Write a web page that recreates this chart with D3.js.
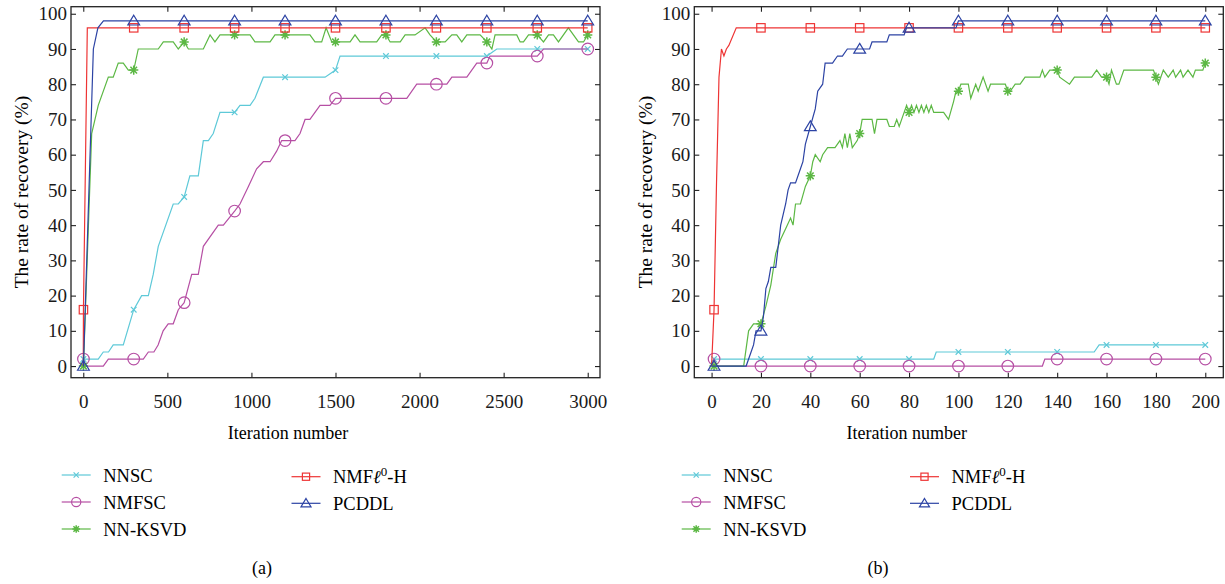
<!DOCTYPE html>
<html>
<head>
<meta charset="utf-8">
<script src="https://cdnjs.cloudflare.com/ajax/libs/d3/7.8.5/d3.min.js"></script>
<style>
body { margin: 0; background: #fff; }
.axis path { display: none; }
.axis line { stroke: #222; stroke-width: 1.1; }
</style>
</head>
<body>
<svg id="fig" width="1225" height="584"></svg>
<script>
// legend names, colours and marker kinds, same order as drawn
var methods = ['NNSC', 'NMFSC', 'NN-KSVD', 'NMFl0-H', 'PCDDL'];
var colors = ['#5ec9d8', '#b64fa4', '#5cb844', '#ee3434', '#2c43a4'];
var markers = ['x', 'o', '*', 's', '^'];

// (a) iterations 0..3000
var xTicksA = [0, 500, 1000, 1500, 2000, 2500, 3000];
var markItsA = [1, 300, 600, 900, 1200, 1500, 1800, 2100, 2400, 2700, 3000];
var nnscA = [[0,0],[1,2],[89,2],[119,4],[150,4],[178,6],[238,6],[300,16],[347,20],[387,20],[416,26],[446,34],[535,46],[565,46],[600,48],[634,54],[684,54],[714,64],[744,64],[773,66],[813,72],[900,72],[932,74],[992,74],[1021,76],[1071,82],[1200,82],[1438,82],[1500,84],[1527,88],[1800,88],[2100,88],[2400,88],[2459,90],[2700,90],[3000,90]];
var nmfscA = [[0,0],[1,2],[10,0],[119,0],[149,2],[300,2],[357,2],[387,4],[420,4],[445,6],[475,10],[505,12],[535,12],[565,16],[600,18],[645,26],[684,26],[714,34],[803,40],[833,40],[900,44],[932,46],[982,51],[1031,56],[1071,58],[1111,58],[1150,61],[1180,64],[1200,64],[1259,64],[1289,66],[1319,70],[1348,70],[1408,74],[1467,74],[1500,76],[1800,76],[1924,76],[1983,80],[2100,80],[2162,80],[2192,82],[2281,82],[2340,86],[2400,86],[2419,88],[2700,88],[2737,90],[3000,90]];
var nnksvdA = [[0,0],[1,0],[50,66],[89,74],[149,82],[178,82],[208,86],[238,86],[268,84],[300,84],[327,90],[446,90],[476,92],[535,92],[565,90],[600,92],[625,90],[714,90],[754,94],[783,92],[813,94],[900,94],[992,94],[1021,92],[1111,92],[1140,94],[1200,94],[1348,94],[1378,92],[1418,92],[1444,96],[1478,92],[1500,92],[1587,92],[1616,94],[1646,92],[1745,92],[1775,94],[1800,94],[1825,92],[1885,92],[1914,94],[1973,94],[2033,96],[2062,94],[2100,92],[2152,92],[2192,94],[2221,94],[2251,92],[2281,94],[2360,94],[2400,92],[2430,90],[2449,94],[2578,94],[2598,92],[2618,92],[2648,94],[2700,94],[2737,92],[2767,94],[2796,94],[2826,92],[2885,96],[2945,92],[2975,92],[3000,94]];
var nmfl0A = [[0,0],[1,16],[24,96],[300,96],[600,96],[900,96],[1200,96],[1500,96],[1800,96],[2100,96],[2400,96],[2700,96],[3000,96]];
var pcddlA = [[0,0],[1,0],[60,90],[87,96],[120,98],[300,98],[600,98],[900,98],[1200,98],[1500,98],[1800,98],[2100,98],[2400,98],[2700,98],[3000,98]];

// (b) iterations 0..200
var xTicksB = [0, 20, 40, 60, 80, 100, 120, 140, 160, 180, 200];
var markItsB = [1, 20, 40, 60, 80, 100, 120, 140, 160, 180, 200];
var nnscB = [[0,0],[1,2],[20,2],[40,2],[60,2],[80,2],[90,2],[91,4],[100,4],[120,4],[140,4],[155,4],[157,6],[160,6],[180,6],[200,6]];
var nmfscB = [[0,0],[1,2],[2,0],[20,0],[40,0],[60,0],[80,0],[100,0],[120,0],[134,0],[135,2],[140,2],[160,2],[180,2],[200,2]];
var nnksvdB = [[0,0],[1,0],[13,0],[15,10],[17,12],[19,12],[20,12],[22,17],[24,23],[26,32],[28,36],[30,39],[32,42],[33,40],[34,46],[36,46],[38,51],[40,54],[41,58],[42,60],[44,58],[45,60],[47,62],[50,62],[52,64],[53,62],[54,66],[55,62],[56,66],[57,62],[59,64],[60,66],[61,70],[65,70],[66,66],[67,70],[71,70],[72,68],[74,68],[75,70],[76,68],[78,72],[79,74],[80,72],[81,74],[82,72],[83,74],[84,72],[85,74],[86,72],[87,74],[88,72],[89,74],[90,72],[94,72],[96,70],[98,75],[99,78],[100,78],[101,80],[104,80],[105,76],[107,80],[108,78],[110,82],[112,78],[113,80],[119,80],[120,78],[121,78],[123,80],[125,80],[127,82],[133,82],[134,84],[135,82],[137,84],[140,84],[141,82],[145,80],[147,82],[154,82],[156,84],[158,82],[160,82],[161,80],[162,84],[164,80],[165,80],[167,84],[179,84],[180,82],[181,80],[183,84],[185,82],[187,84],[188,82],[190,84],[191,82],[193,84],[195,82],[196,84],[199,84],[200,86]];
var nmfl0B = [[0,0],[1,16],[2,52],[3,82],[4,90],[5,88],[6,90],[7,91],[10,96],[20,96],[40,96],[60,96],[80,96],[100,96],[120,96],[140,96],[160,96],[180,96],[200,96]];
var pcddlB = [[0,0],[1,0],[14,0],[16,4],[17,6],[18,10],[20,10],[21,14],[22,22],[23,24],[24,28],[26,28],[28,40],[30,46],[31,50],[32,52],[34,52],[36,56],[37,58],[38,63],[40,68],[42,73],[43,78],[45,80],[46,86],[49,86],[51,88],[53,88],[55,90],[60,90],[64,90],[65,92],[71,92],[72,94],[78,94],[79,96],[80,96],[99,96],[100,98],[120,98],[140,98],[160,98],[180,98],[200,98]];

var yTicks = [0, 10, 20, 30, 40, 50, 60, 70, 80, 90, 100];

var FONT = "'Liberation Serif', 'Times New Roman', serif";
var svg = d3.select('#fig');

function drawMarker(g, kind, cx, cy, col, s) {
  var m = g.append('g').attr('transform', 'translate(' + cx + ',' + cy + ')')
    .attr('fill', 'none').attr('stroke', col).attr('stroke-width', 1.2);
  if (kind === 'x') {
    m.append('path').attr('d', 'M' + (-s) + ',' + (-s) + 'L' + s + ',' + s + 'M' + (-s) + ',' + s + 'L' + s + ',' + (-s));
  } else if (kind === 'o') {
    m.append('circle').attr('r', s);
  } else if (kind === '*') {
    var d = s * 0.72;
    m.append('path').attr('stroke-width', 1.5)
      .attr('d', 'M0,' + (-s) + 'V' + s + 'M' + (-s) + ',0H' + s +
        'M' + (-d) + ',' + (-d) + 'L' + d + ',' + d + 'M' + (-d) + ',' + d + 'L' + d + ',' + (-d));
  } else if (kind === 's') {
    m.append('rect').attr('x', -s).attr('y', -s).attr('width', 2 * s).attr('height', 2 * s);
  } else if (kind === '^') {
    m.append('path').attr('d', 'M0,' + (-s) + 'L' + (s * 1.05) + ',' + (s * 0.75) + 'L' + (-s * 1.05) + ',' + (s * 0.75) + 'Z');
  }
}

var markSize = { 'x': 2.8, 'o': 5.8, '*': 4.6, 's': 4.2, '^': 5.6 };
var legSize = { 'x': 2.6, 'o': 4.6, '*': 3.8, 's': 3.6, '^': 4.8 };

function styleTicks(ax) {
  ax.selectAll('text').style('font-family', FONT).style('font-size', '19px').style('fill', '#1a1a1a');
}

function panel(cfg) {
  var x = d3.scaleLinear().domain(cfg.xdom).range([cfg.left, cfg.right]);
  var y = d3.scaleLinear().domain([-3.3, 102]).range([377.7, 6.7]);
  var g = svg.append('g');

  g.append('g').attr('class', 'axis').attr('transform', 'translate(0,' + 377.7 + ')')
    .call(d3.axisBottom(x).tickValues(cfg.xticks).tickSize(-5).tickPadding(17).tickFormat(d3.format('d')))
    .call(styleTicks);
  g.append('g').attr('class', 'axis').attr('transform', 'translate(0,' + 6.7 + ')')
    .call(d3.axisTop(x).tickValues(cfg.xticks).tickSize(-5).tickFormat(''));
  g.append('g').attr('class', 'axis').attr('transform', 'translate(' + cfg.left + ',0)')
    .call(d3.axisLeft(y).tickValues(yTicks).tickSize(-5).tickPadding(4))
    .call(styleTicks);
  g.append('g').attr('class', 'axis').attr('transform', 'translate(' + cfg.right + ',0)')
    .call(d3.axisRight(y).tickValues(yTicks).tickSize(-5).tickFormat(''));

  g.append('rect').attr('x', cfg.left).attr('y', 6.7)
    .attr('width', cfg.right - cfg.left).attr('height', 377.7 - 6.7)
    .attr('fill', 'none').attr('stroke', '#222').attr('stroke-width', 1.3);

  var line = d3.line().x(function(d) { return x(d[0]); }).y(function(d) { return y(d[1]); });

  cfg.series.forEach(function(data, i) {
    g.append('path').datum(data).attr('d', line)
      .attr('fill', 'none').attr('stroke', colors[i]).attr('stroke-width', 1.2);
    data.filter(function(d) { return cfg.marks.indexOf(d[0]) >= 0; }).forEach(function(d) {
      drawMarker(g, markers[i], x(d[0]), y(d[1]), colors[i], markSize[markers[i]]);
    });
  });

  // axis titles
  g.append('text').attr('transform', 'translate(' + cfg.ylabX + ',192) rotate(-90)')
    .attr('text-anchor', 'middle').style('font-family', FONT).style('font-size', '19.5px')
    .text('The rate of recovery (%)');
  g.append('text').attr('x', cfg.xlabX).attr('y', 439)
    .attr('text-anchor', 'middle').style('font-family', FONT).style('font-size', '18px')
    .text('Iteration number');
  g.append('text').attr('x', cfg.capX).attr('y', 574)
    .attr('text-anchor', 'middle').style('font-family', FONT).style('font-size', '18px')
    .text(cfg.caption);

  // legend, two columns
  var legPos = [
    [cfg.legL, 475], [cfg.legL, 502], [cfg.legL, 529],
    [cfg.legR, 476.7], [cfg.legR, 503.3]
  ];
  methods.forEach(function(name, i) {
    var lx = legPos[i][0], ly = legPos[i][1];
    g.append('line').attr('x1', lx).attr('x2', lx + 29).attr('y1', ly).attr('y2', ly)
      .attr('stroke', colors[i]).attr('stroke-width', 1.2);
    drawMarker(g, markers[i], lx + 14.5, ly, colors[i], legSize[markers[i]]);
    var t = g.append('text').attr('x', lx + 41.5).attr('y', ly + 6.7)
      .style('font-family', FONT).style('font-size', '18.5px');
    if (name === 'NMFl0-H') {
      t.append('tspan').text('NMF');
      t.append('tspan').style('font-style', 'italic').text('\u2113');
      t.append('tspan').attr('dy', -7).style('font-size', '13px').text('0');
      t.append('tspan').attr('dy', 7).text('-H');
    } else {
      t.text(name);
    }
  });
}

panel({
  left: 71, right: 600, xdom: [-73, 3073], xticks: xTicksA, marks: markItsA,
  series: [nnscA, nmfscA, nnksvdA, nmfl0A, pcddlA],
  ylabX: 28, xlabX: 288, capX: 262, caption: '(a)', legL: 61.7, legR: 291.5
});

panel({
  left: 694.3, right: 1223.3, xdom: [-7, 207.3], xticks: xTicksB, marks: markItsB,
  series: [nnscB, nmfscB, nnksvdB, nmfl0B, pcddlB],
  ylabX: 652, xlabX: 906.7, capX: 878, caption: '(b)', legL: 681.7, legR: 910
});
</script>
</body>
</html>
